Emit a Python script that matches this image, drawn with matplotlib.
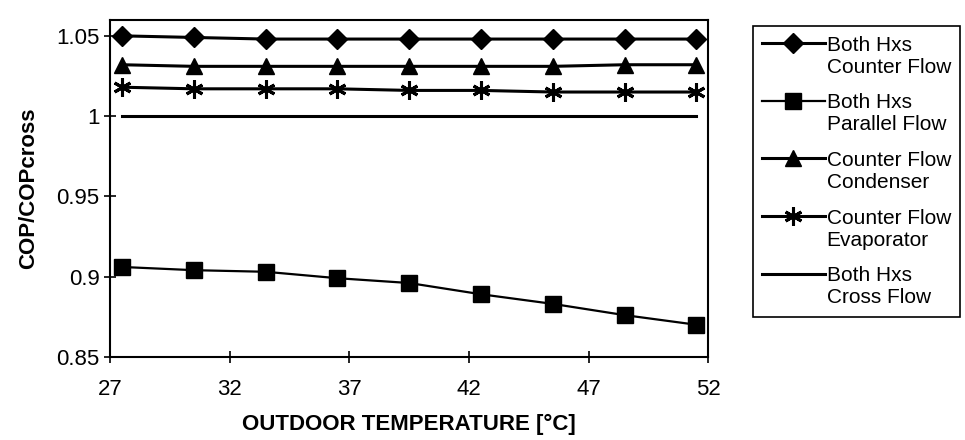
import numpy as np
import matplotlib
matplotlib.use("Agg")
import matplotlib.pyplot as plt

plt.rcParams['font.family'] = ['Liberation Sans', 'DejaVu Sans']

# outdoor temperature [C]
temps = [27.5, 30.5, 33.5, 36.5, 39.5, 42.5, 45.5, 48.5, 51.5]

# COP / COPcross for each configuration
both_counter = [1.050, 1.049, 1.048, 1.048, 1.048, 1.048, 1.048, 1.048, 1.048]
both_parallel = [0.906, 0.904, 0.903, 0.899, 0.896, 0.889, 0.883, 0.876, 0.870]
counter_cond = [1.032, 1.031, 1.031, 1.031, 1.031, 1.031, 1.031, 1.032, 1.032]
counter_evap = [1.018, 1.017, 1.017, 1.017, 1.016, 1.016, 1.015, 1.015, 1.015]
both_cross = [1.0, 1.0, 1.0, 1.0, 1.0, 1.0, 1.0, 1.0, 1.0]

labels = ["Both Hxs\nCounter Flow", "Both Hxs\nParallel Flow",
          "Counter Flow\nCondenser", "Counter Flow\nEvaporator",
          "Both Hxs\nCross Flow"]

x_ticks = [27, 32, 37, 42, 47, 52]
y_ticks = [0.85, 0.9, 0.95, 1.0, 1.05]
y_tick_labels = ["0.85", "0.9", "0.95", "1", "1.05"]

fig = plt.figure(figsize=(9.65, 4.4), dpi=100)
ax = fig.add_axes([0.114, 0.189, 0.620, 0.766])

ax.plot(temps, both_counter, color='black', lw=2.2, marker='D', ms=10, label=labels[0])
ax.plot(temps, both_parallel, color='black', lw=1.6, marker='s', ms=11, label=labels[1])
ax.plot(temps, counter_cond, color='black', lw=2.2, marker='^', ms=11, label=labels[2])
ax.plot(temps, counter_evap, color='black', lw=2.2, marker=(6, 2, 0), ms=13,
        mew=2.2, label=labels[3])
ax.plot(temps, both_cross, color='black', lw=2.2, label=labels[4])

ax.set_xlim(27, 52)
ax.set_ylim(0.85, 1.06)
ax.set_xticks(x_ticks)
ax.set_yticks(y_ticks)
ax.set_yticklabels(y_tick_labels)
ax.tick_params(direction='inout', length=8, width=1.2, labelsize=16, colors='black')
ax.tick_params(axis='x', pad=12)
for s in ax.spines.values():
    s.set_linewidth(1.5)
    s.set_color('black')

ax.set_xlabel("OUTDOOR TEMPERATURE [\u00b0C]", fontsize=16, fontweight='bold', labelpad=10)
ax.set_ylabel("COP/COPcross", fontsize=16, fontweight='bold', labelpad=12)

leg = fig.legend(loc='upper left', bbox_to_anchor=(0.780, 0.94), fontsize=15,
                 frameon=True, fancybox=False, edgecolor='black', framealpha=1,
                 handlelength=3.0, handletextpad=0.1, labelspacing=0.8,
                 borderpad=0.45, borderaxespad=0)
leg.get_frame().set_linewidth(1.2)
# put each legend line next to the first line of its label
for col in leg._legend_handle_box.get_children():
    for item in col.get_children():
        item.align = 'top'

fig.savefig("out.png", dpi=100, facecolor='white')
